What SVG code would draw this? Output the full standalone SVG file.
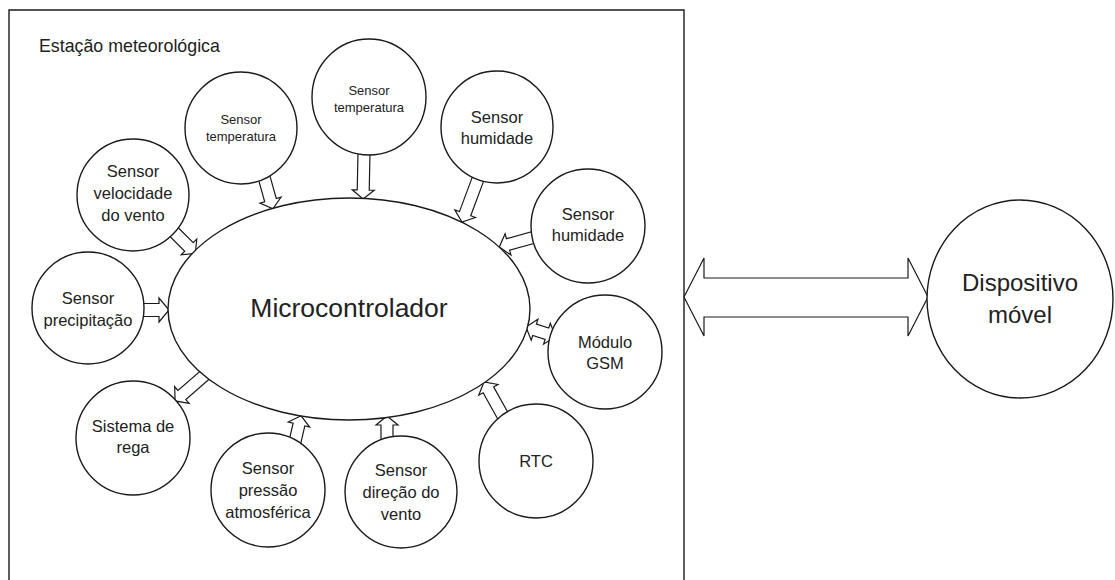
<svg xmlns="http://www.w3.org/2000/svg" width="1115" height="580" viewBox="0 0 1115 580">
<defs>
<style>
.ln{fill:none;stroke:#1a1a1a;stroke-width:1.4}
.nd{fill:#fff;stroke:#1a1a1a;stroke-width:1.4}
.ar{fill:#fff;stroke:#1a1a1a;stroke-width:1.2;stroke-linejoin:miter}
text{font-family:"Liberation Sans",Arial,sans-serif;fill:#222;text-anchor:middle}
.t{font-size:16.5px}
.s{font-size:13px}
.title{font-size:17.8px;text-anchor:start}
.big{font-size:26.5px}
.dm{font-size:24px}
</style>
</defs>
<rect width="1115" height="580" fill="#fff"/>
<g id="frame">
<path class="ln" d="M9,581 V10 H684 V581"/>
<text class="title" x="39" y="52">Estação meteorológica</text>
</g>
<g id="connectors">
<polygon class="ar" transform="translate(141,310)" points="0,-6.5 18,-6.5 18,-12 28,0 18,12 18,6.5 0,6.5"/>
<polygon class="ar" transform="translate(172,230) rotate(45)" points="0,-6 24,-6 24,-11 33,0 24,11 24,6 0,6"/>
<polygon class="ar" transform="translate(264,177) rotate(74.3)" points="0,-6 24,-6 24,-11 33,0 24,11 24,6 0,6"/>
<polygon class="ar" transform="translate(364,153) rotate(91.2)" points="0,-6 37,-6 37,-11 46,0 37,11 37,6 0,6"/>
<polygon class="ar" transform="translate(478,179) rotate(110.4)" points="0,-6 37,-6 37,-11 46,0 37,11 37,6 0,6"/>
<polygon class="ar" transform="translate(535,237) rotate(164.5)" points="0,-6 28,-6 28,-11 37,0 28,11 28,6 0,6"/>
<polygon class="ar" transform="translate(526,327) rotate(17.8)" points="0,0 9,-11 9,-6 22,-6 22,-11 31,0 22,11 22,6 9,6 9,11"/>
<polygon class="ar" transform="translate(503,416) rotate(-119.2)" points="0,-6 30,-6 30,-11 39,0 30,11 30,6 0,6"/>
<polygon class="ar" transform="translate(206,374) rotate(138.9)" points="0,-6 32,-6 32,-11 41,0 32,11 32,6 0,6"/>
<polygon class="ar" transform="translate(294,446) rotate(-76.9)" points="0,-6 22,-6 22,-11 31,0 22,11 22,6 0,6"/>
<polygon class="ar" transform="translate(387,442) rotate(-90)" points="0,-6 17,-6 17,-11 26,0 17,11 17,6 0,6"/>
<polygon class="ar" points="684,297 704,258 704,278 908,278 908,258 928,297 908,336 908,317 704,317 704,336"/>
</g>
<g id="microcontrolador">
<ellipse class="nd" cx="349" cy="309" rx="181" ry="111"/>
<text class="big" x="349" y="317">Microcontrolador</text>
</g>
<g id="sensor-velocidade">
<circle class="nd" cx="133" cy="195" r="56"/>
<text class="t" x="133" y="177">Sensor</text>
<text class="t" x="133" y="199">velocidade</text>
<text class="t" x="133" y="221">do vento</text>
</g>
<g id="sensor-precipitacao">
<circle class="nd" cx="88" cy="308" r="56"/>
<text class="t" x="88" y="304">Sensor</text>
<text class="t" x="88" y="326">precipitação</text>
</g>
<g id="sensor-temperatura-1">
<circle class="nd" cx="241" cy="128" r="56"/>
<text class="s" x="241" y="124">Sensor</text>
<text class="s" x="241" y="141">temperatura</text>
</g>
<g id="sensor-temperatura-2">
<ellipse class="nd" cx="369" cy="97" rx="57" ry="58"/>
<text class="s" x="369" y="95">Sensor</text>
<text class="s" x="369" y="112">temperatura</text>
</g>
<g id="sensor-humidade-1">
<circle class="nd" cx="497" cy="127" r="56"/>
<text class="t" x="497" y="123">Sensor</text>
<text class="t" x="497" y="144">humidade</text>
</g>
<g id="sensor-humidade-2">
<circle class="nd" cx="588" cy="226" r="57"/>
<text class="t" x="588" y="220">Sensor</text>
<text class="t" x="588" y="241">humidade</text>
</g>
<g id="modulo-gsm">
<circle class="nd" cx="605" cy="352" r="57"/>
<text class="t" x="605" y="348">Módulo</text>
<text class="t" x="605" y="369">GSM</text>
</g>
<g id="rtc">
<circle class="nd" cx="536" cy="461" r="57"/>
<text class="t" x="536" y="467">RTC</text>
</g>
<g id="sensor-direcao">
<circle class="nd" cx="401" cy="492" r="56"/>
<text class="t" x="401" y="476">Sensor</text>
<text class="t" x="401" y="498">direção do</text>
<text class="t" x="401" y="520">vento</text>
</g>
<g id="sensor-pressao">
<circle class="nd" cx="268" cy="490" r="57"/>
<text class="t" x="268" y="474">Sensor</text>
<text class="t" x="268" y="496">pressão</text>
<text class="t" x="268" y="518">atmosférica</text>
</g>
<g id="sistema-rega">
<circle class="nd" cx="133" cy="438" r="57"/>
<text class="t" x="133" y="432">Sistema de</text>
<text class="t" x="133" y="453">rega</text>
</g>
<g id="dispositivo-movel">
<ellipse class="nd" cx="1020" cy="299" rx="93" ry="99"/>
<text class="dm" x="1020" y="291">Dispositivo</text>
<text class="dm" x="1020" y="323">móvel</text>
</g>
</svg>
